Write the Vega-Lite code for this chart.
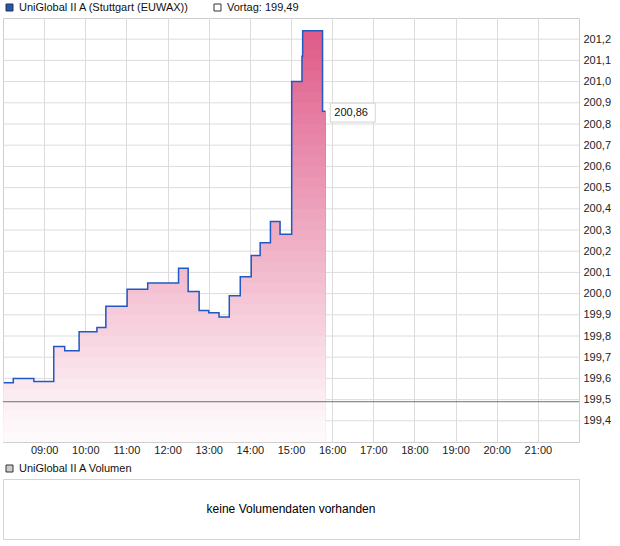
{
  "$schema": "https://vega.github.io/schema/vega-lite/v6.json",
  "padding": {"left": 2, "top": 1, "right": 5, "bottom": 5},
  "background": "white",
  "spacing": 6,
  "config": {
    "font": "Liberation Sans",
    "view": {"stroke": "#cfcfcf"},
    "axis": {"labelFont": "Liberation Sans", "labelFontSize": 11, "labelColor": "#222222", "gridColor": "#dcdcdc", "domain": false, "ticks": false, "title": null},
    "legend": {"title": null, "orient": "none", "legendX": 1, "legendY": -16, "direction": "horizontal", "symbolType": "square", "symbolSize": 49, "labelFont": "Liberation Sans", "labelFontSize": 11, "labelColor": "#111111", "labelOffset": 4, "labelLimit": 400, "columnPadding": 22, "symbolStrokeColor": "#333333", "symbolStrokeWidth": 1, "symbolOpacity": 1}
  },
  "resolve": {"scale": {"fill": "independent"}, "legend": {"fill": "independent"}},
  "datasets": {
    "price": [
      {"t": "2024-01-02T08:01", "v": 199.58},
      {"t": "2024-01-02T08:15", "v": 199.60},
      {"t": "2024-01-02T08:45", "v": 199.585},
      {"t": "2024-01-02T09:14", "v": 199.75},
      {"t": "2024-01-02T09:30", "v": 199.73},
      {"t": "2024-01-02T09:51", "v": 199.82},
      {"t": "2024-01-02T10:17", "v": 199.84},
      {"t": "2024-01-02T10:30", "v": 199.94},
      {"t": "2024-01-02T11:01", "v": 200.02},
      {"t": "2024-01-02T11:31", "v": 200.05},
      {"t": "2024-01-02T12:16", "v": 200.12},
      {"t": "2024-01-02T12:30", "v": 200.01},
      {"t": "2024-01-02T12:46", "v": 199.92},
      {"t": "2024-01-02T13:00", "v": 199.91},
      {"t": "2024-01-02T13:15", "v": 199.89},
      {"t": "2024-01-02T13:30", "v": 199.99},
      {"t": "2024-01-02T13:46", "v": 200.08},
      {"t": "2024-01-02T14:02", "v": 200.18},
      {"t": "2024-01-02T14:15", "v": 200.24},
      {"t": "2024-01-02T14:30", "v": 200.34},
      {"t": "2024-01-02T14:44", "v": 200.28},
      {"t": "2024-01-02T15:01", "v": 201.00},
      {"t": "2024-01-02T15:16", "v": 201.12},
      {"t": "2024-01-02T15:17", "v": 201.24},
      {"t": "2024-01-02T15:46", "v": 200.86},
      {"t": "2024-01-02T15:50", "v": 200.86}
    ],
    "last": [{"t": "2024-01-02T15:50", "v": 200.86, "label": "200,86"}],
    "vortag": [{"v": 199.49}],
    "ygrid": [{"g": 199.4}, {"g": 199.5}, {"g": 199.6}, {"g": 199.7}, {"g": 199.8}, {"g": 199.9}, {"g": 200.0}, {"g": 200.1}, {"g": 200.2}, {"g": 200.3}, {"g": 200.4}, {"g": 200.5}, {"g": 200.6}, {"g": 200.7}, {"g": 200.8}, {"g": 200.9}, {"g": 201.0}, {"g": 201.1}, {"g": 201.2}],
    "legendTop": [{"name": "UniGlobal II A (Stuttgart (EUWAX))"}, {"name": "Vortag: 199,49"}]
  },
  "vconcat": [
    {
      "width": 576,
      "height": 424,
      "encoding": {
        "x": {
          "field": "t", "type": "temporal",
          "scale": {"domain": [{"year": 2024, "month": 1, "date": 2, "hours": 8}, {"year": 2024, "month": 1, "date": 2, "hours": 22}]},
          "axis": {
            "format": "%H:%M", "labelPadding": 2, "labelFlush": false, "grid": true,
            "values": [
              {"year": 2024, "month": 1, "date": 2, "hours": 9},
              {"year": 2024, "month": 1, "date": 2, "hours": 10},
              {"year": 2024, "month": 1, "date": 2, "hours": 11},
              {"year": 2024, "month": 1, "date": 2, "hours": 12},
              {"year": 2024, "month": 1, "date": 2, "hours": 13},
              {"year": 2024, "month": 1, "date": 2, "hours": 14},
              {"year": 2024, "month": 1, "date": 2, "hours": 15},
              {"year": 2024, "month": 1, "date": 2, "hours": 16},
              {"year": 2024, "month": 1, "date": 2, "hours": 17},
              {"year": 2024, "month": 1, "date": 2, "hours": 18},
              {"year": 2024, "month": 1, "date": 2, "hours": 19},
              {"year": 2024, "month": 1, "date": 2, "hours": 20},
              {"year": 2024, "month": 1, "date": 2, "hours": 21}
            ]
          }
        }
      },
      "layer": [
        {
          "resolve": {"scale": {"y": "independent"}},
          "layer": [
        {"data": {"name": "ygrid"}, "mark": {"type": "rule", "color": "#dcdcdc", "strokeWidth": 1}, "encoding": {"x": null, "y": {"field": "g", "type": "quantitative", "axis": null, "scale": {"domain": [199.3, 201.3], "zero": false, "range": [424, 0]}}}},
        {"data": {"name": "price"}, "mark": {"type": "area", "interpolate": "step-after", "opacity": 1, "color": "#df5a88"}, "encoding": {"y": {"field": "v", "type": "quantitative", "axis": null, "scale": {"domain": [199.3, 201.3], "clamp": true, "zero": false, "range": [424, 0]}}}},
        {"data": {"name": "price"}, "mark": {"type": "area", "interpolate": "step-after", "opacity": 1, "color": "#df5b89"}, "encoding": {"y": {"field": "v", "type": "quantitative", "axis": null, "scale": {"domain": [199.3, 201.25], "clamp": true, "zero": false, "range": [424, 10.6]}}}},
        {"data": {"name": "price"}, "mark": {"type": "area", "interpolate": "step-after", "opacity": 1, "color": "#e0608c"}, "encoding": {"y": {"field": "v", "type": "quantitative", "axis": null, "scale": {"domain": [199.3, 201.2], "clamp": true, "zero": false, "range": [424, 21.2]}}}},
        {"data": {"name": "price"}, "mark": {"type": "area", "interpolate": "step-after", "opacity": 1, "color": "#e1648f"}, "encoding": {"y": {"field": "v", "type": "quantitative", "axis": null, "scale": {"domain": [199.3, 201.15], "clamp": true, "zero": false, "range": [424, 31.8]}}}},
        {"data": {"name": "price"}, "mark": {"type": "area", "interpolate": "step-after", "opacity": 1, "color": "#e26892"}, "encoding": {"y": {"field": "v", "type": "quantitative", "axis": null, "scale": {"domain": [199.3, 201.1], "clamp": true, "zero": false, "range": [424, 42.4]}}}},
        {"data": {"name": "price"}, "mark": {"type": "area", "interpolate": "step-after", "opacity": 1, "color": "#e36c95"}, "encoding": {"y": {"field": "v", "type": "quantitative", "axis": null, "scale": {"domain": [199.3, 201.05], "clamp": true, "zero": false, "range": [424, 53.0]}}}},
        {"data": {"name": "price"}, "mark": {"type": "area", "interpolate": "step-after", "opacity": 1, "color": "#e37098"}, "encoding": {"y": {"field": "v", "type": "quantitative", "axis": null, "scale": {"domain": [199.3, 201.0], "clamp": true, "zero": false, "range": [424, 63.6]}}}},
        {"data": {"name": "price"}, "mark": {"type": "area", "interpolate": "step-after", "opacity": 1, "color": "#e4759b"}, "encoding": {"y": {"field": "v", "type": "quantitative", "axis": null, "scale": {"domain": [199.3, 200.95], "clamp": true, "zero": false, "range": [424, 74.2]}}}},
        {"data": {"name": "price"}, "mark": {"type": "area", "interpolate": "step-after", "opacity": 1, "color": "#e5799e"}, "encoding": {"y": {"field": "v", "type": "quantitative", "axis": null, "scale": {"domain": [199.3, 200.9], "clamp": true, "zero": false, "range": [424, 84.8]}}}},
        {"data": {"name": "price"}, "mark": {"type": "area", "interpolate": "step-after", "opacity": 1, "color": "#e67da2"}, "encoding": {"y": {"field": "v", "type": "quantitative", "axis": null, "scale": {"domain": [199.3, 200.85], "clamp": true, "zero": false, "range": [424, 95.4]}}}},
        {"data": {"name": "price"}, "mark": {"type": "area", "interpolate": "step-after", "opacity": 1, "color": "#e781a5"}, "encoding": {"y": {"field": "v", "type": "quantitative", "axis": null, "scale": {"domain": [199.3, 200.8], "clamp": true, "zero": false, "range": [424, 106.0]}}}},
        {"data": {"name": "price"}, "mark": {"type": "area", "interpolate": "step-after", "opacity": 1, "color": "#e886a8"}, "encoding": {"y": {"field": "v", "type": "quantitative", "axis": null, "scale": {"domain": [199.3, 200.75], "clamp": true, "zero": false, "range": [424, 116.6]}}}},
        {"data": {"name": "price"}, "mark": {"type": "area", "interpolate": "step-after", "opacity": 1, "color": "#e88aab"}, "encoding": {"y": {"field": "v", "type": "quantitative", "axis": null, "scale": {"domain": [199.3, 200.7], "clamp": true, "zero": false, "range": [424, 127.2]}}}},
        {"data": {"name": "price"}, "mark": {"type": "area", "interpolate": "step-after", "opacity": 1, "color": "#e98eae"}, "encoding": {"y": {"field": "v", "type": "quantitative", "axis": null, "scale": {"domain": [199.3, 200.65], "clamp": true, "zero": false, "range": [424, 137.8]}}}},
        {"data": {"name": "price"}, "mark": {"type": "area", "interpolate": "step-after", "opacity": 1, "color": "#ea93b1"}, "encoding": {"y": {"field": "v", "type": "quantitative", "axis": null, "scale": {"domain": [199.3, 200.6], "clamp": true, "zero": false, "range": [424, 148.4]}}}},
        {"data": {"name": "price"}, "mark": {"type": "area", "interpolate": "step-after", "opacity": 1, "color": "#eb97b4"}, "encoding": {"y": {"field": "v", "type": "quantitative", "axis": null, "scale": {"domain": [199.3, 200.55], "clamp": true, "zero": false, "range": [424, 159.0]}}}},
        {"data": {"name": "price"}, "mark": {"type": "area", "interpolate": "step-after", "opacity": 1, "color": "#ec9bb7"}, "encoding": {"y": {"field": "v", "type": "quantitative", "axis": null, "scale": {"domain": [199.3, 200.5], "clamp": true, "zero": false, "range": [424, 169.6]}}}},
        {"data": {"name": "price"}, "mark": {"type": "area", "interpolate": "step-after", "opacity": 1, "color": "#ec9fba"}, "encoding": {"y": {"field": "v", "type": "quantitative", "axis": null, "scale": {"domain": [199.3, 200.45], "clamp": true, "zero": false, "range": [424, 180.2]}}}},
        {"data": {"name": "price"}, "mark": {"type": "area", "interpolate": "step-after", "opacity": 1, "color": "#eda4bd"}, "encoding": {"y": {"field": "v", "type": "quantitative", "axis": null, "scale": {"domain": [199.3, 200.4], "clamp": true, "zero": false, "range": [424, 190.8]}}}},
        {"data": {"name": "price"}, "mark": {"type": "area", "interpolate": "step-after", "opacity": 1, "color": "#eea8c0"}, "encoding": {"y": {"field": "v", "type": "quantitative", "axis": null, "scale": {"domain": [199.3, 200.35], "clamp": true, "zero": false, "range": [424, 201.4]}}}},
        {"data": {"name": "price"}, "mark": {"type": "area", "interpolate": "step-after", "opacity": 1, "color": "#efacc3"}, "encoding": {"y": {"field": "v", "type": "quantitative", "axis": null, "scale": {"domain": [199.3, 200.3], "clamp": true, "zero": false, "range": [424, 212.0]}}}},
        {"data": {"name": "price"}, "mark": {"type": "area", "interpolate": "step-after", "opacity": 1, "color": "#f0b0c6"}, "encoding": {"y": {"field": "v", "type": "quantitative", "axis": null, "scale": {"domain": [199.3, 200.25], "clamp": true, "zero": false, "range": [424, 222.6]}}}},
        {"data": {"name": "price"}, "mark": {"type": "area", "interpolate": "step-after", "opacity": 1, "color": "#f1b5c9"}, "encoding": {"y": {"field": "v", "type": "quantitative", "axis": null, "scale": {"domain": [199.3, 200.2], "clamp": true, "zero": false, "range": [424, 233.2]}}}},
        {"data": {"name": "price"}, "mark": {"type": "area", "interpolate": "step-after", "opacity": 1, "color": "#f1b9cc"}, "encoding": {"y": {"field": "v", "type": "quantitative", "axis": null, "scale": {"domain": [199.3, 200.15], "clamp": true, "zero": false, "range": [424, 243.8]}}}},
        {"data": {"name": "price"}, "mark": {"type": "area", "interpolate": "step-after", "opacity": 1, "color": "#f2bdcf"}, "encoding": {"y": {"field": "v", "type": "quantitative", "axis": null, "scale": {"domain": [199.3, 200.1], "clamp": true, "zero": false, "range": [424, 254.4]}}}},
        {"data": {"name": "price"}, "mark": {"type": "area", "interpolate": "step-after", "opacity": 1, "color": "#f3c1d3"}, "encoding": {"y": {"field": "v", "type": "quantitative", "axis": null, "scale": {"domain": [199.3, 200.05], "clamp": true, "zero": false, "range": [424, 265.0]}}}},
        {"data": {"name": "price"}, "mark": {"type": "area", "interpolate": "step-after", "opacity": 1, "color": "#f4c6d6"}, "encoding": {"y": {"field": "v", "type": "quantitative", "axis": null, "scale": {"domain": [199.3, 200.0], "clamp": true, "zero": false, "range": [424, 275.6]}}}},
        {"data": {"name": "price"}, "mark": {"type": "area", "interpolate": "step-after", "opacity": 1, "color": "#f5cad9"}, "encoding": {"y": {"field": "v", "type": "quantitative", "axis": null, "scale": {"domain": [199.3, 199.95], "clamp": true, "zero": false, "range": [424, 286.2]}}}},
        {"data": {"name": "price"}, "mark": {"type": "area", "interpolate": "step-after", "opacity": 1, "color": "#f6cedc"}, "encoding": {"y": {"field": "v", "type": "quantitative", "axis": null, "scale": {"domain": [199.3, 199.9], "clamp": true, "zero": false, "range": [424, 296.8]}}}},
        {"data": {"name": "price"}, "mark": {"type": "area", "interpolate": "step-after", "opacity": 1, "color": "#f6d2df"}, "encoding": {"y": {"field": "v", "type": "quantitative", "axis": null, "scale": {"domain": [199.3, 199.85], "clamp": true, "zero": false, "range": [424, 307.4]}}}},
        {"data": {"name": "price"}, "mark": {"type": "area", "interpolate": "step-after", "opacity": 1, "color": "#f7d7e2"}, "encoding": {"y": {"field": "v", "type": "quantitative", "axis": null, "scale": {"domain": [199.3, 199.8], "clamp": true, "zero": false, "range": [424, 318.0]}}}},
        {"data": {"name": "price"}, "mark": {"type": "area", "interpolate": "step-after", "opacity": 1, "color": "#f8dbe5"}, "encoding": {"y": {"field": "v", "type": "quantitative", "axis": null, "scale": {"domain": [199.3, 199.75], "clamp": true, "zero": false, "range": [424, 328.6]}}}},
        {"data": {"name": "price"}, "mark": {"type": "area", "interpolate": "step-after", "opacity": 1, "color": "#f9dfe8"}, "encoding": {"y": {"field": "v", "type": "quantitative", "axis": null, "scale": {"domain": [199.3, 199.7], "clamp": true, "zero": false, "range": [424, 339.2]}}}},
        {"data": {"name": "price"}, "mark": {"type": "area", "interpolate": "step-after", "opacity": 1, "color": "#fae3eb"}, "encoding": {"y": {"field": "v", "type": "quantitative", "axis": null, "scale": {"domain": [199.3, 199.65], "clamp": true, "zero": false, "range": [424, 349.8]}}}},
        {"data": {"name": "price"}, "mark": {"type": "area", "interpolate": "step-after", "opacity": 1, "color": "#fae8ee"}, "encoding": {"y": {"field": "v", "type": "quantitative", "axis": null, "scale": {"domain": [199.3, 199.6], "clamp": true, "zero": false, "range": [424, 360.4]}}}},
        {"data": {"name": "price"}, "mark": {"type": "area", "interpolate": "step-after", "opacity": 1, "color": "#fbecf1"}, "encoding": {"y": {"field": "v", "type": "quantitative", "axis": null, "scale": {"domain": [199.3, 199.55], "clamp": true, "zero": false, "range": [424, 371.0]}}}},
        {"data": {"name": "price"}, "mark": {"type": "area", "interpolate": "step-after", "opacity": 1, "color": "#fcf0f4"}, "encoding": {"y": {"field": "v", "type": "quantitative", "axis": null, "scale": {"domain": [199.3, 199.5], "clamp": true, "zero": false, "range": [424, 381.6]}}}},
        {"data": {"name": "price"}, "mark": {"type": "area", "interpolate": "step-after", "opacity": 1, "color": "#fdf4f7"}, "encoding": {"y": {"field": "v", "type": "quantitative", "axis": null, "scale": {"domain": [199.3, 199.45], "clamp": true, "zero": false, "range": [424, 392.2]}}}},
        {"data": {"name": "price"}, "mark": {"type": "area", "interpolate": "step-after", "opacity": 1, "color": "#fdf7f9"}, "encoding": {"y": {"field": "v", "type": "quantitative", "axis": null, "scale": {"domain": [199.3, 199.4], "clamp": true, "zero": false, "range": [424, 402.8]}}}},
        {"data": {"name": "price"}, "mark": {"type": "area", "interpolate": "step-after", "opacity": 1, "color": "#fefafb"}, "encoding": {"y": {"field": "v", "type": "quantitative", "axis": null, "scale": {"domain": [199.3, 199.35], "clamp": true, "zero": false, "range": [424, 413.4]}}}}
          ]
        },
        {
          "encoding": {
            "y": {
              "field": "v", "type": "quantitative",
              "scale": {"domain": [199.3, 201.3], "zero": false},
              "axis": {
                "orient": "right", "labelPadding": 4, "grid": false,
                "values": [199.4, 199.5, 199.6, 199.7, 199.8, 199.9, 200.0, 200.1, 200.2, 200.3, 200.4, 200.5, 200.6, 200.7, 200.8, 200.9, 201.0, 201.1, 201.2],
                "labelExpr": "replace(format(datum.value, '.1f'), '.', ',')"
              }
            }
          },
          "layer": [
            {
              "data": {"name": "price"},
              "mark": {"type": "line", "interpolate": "step-after", "color": "#2158c4", "strokeWidth": 1.5, "clip": true}
            },
            {
              "data": {"name": "vortag"},
              "mark": {"type": "rule", "color": "#6e6e6e", "strokeWidth": 1},
              "encoding": {"x": null}
            },
            {
              "data": {"name": "last"},
              "mark": {"type": "point", "shape": "M0.22,-0.36H2.22V0.48H0.22Z", "size": 2025, "filled": true, "fill": "#ffffff", "stroke": "#d4d4d4", "strokeWidth": 1, "opacity": 1}
            },
            {
              "data": {"name": "last"},
              "mark": {"type": "text", "align": "left", "baseline": "middle", "dx": 9, "dy": 2, "fontSize": 11, "font": "Liberation Sans", "color": "#111111"},
              "encoding": {"text": {"field": "label"}}
            },
            {
              "data": {"name": "legendTop"},
              "mark": {"type": "point", "filled": true, "opacity": 0, "stroke": "#333333"},
              "encoding": {
                "x": null, "y": null,
                "fill": {"field": "name", "type": "nominal",
                  "scale": {"domain": ["UniGlobal II A (Stuttgart (EUWAX))", "Vortag: 199,49"], "range": ["#1f56c4", "#ffffff"]},
                  "legend": {}}
              }
            }
          ]
        }
      ]
    },
    {
      "width": 576,
      "height": 60,
      "view": {"stroke": "#d4d4d4", "strokeWidth": 1},
      "layer": [
        {
          "data": {"values": [{"msg": "keine Volumendaten vorhanden"}]},
          "mark": {"type": "text", "fontSize": 12, "font": "Liberation Sans", "color": "#000000", "align": "center", "baseline": "middle"},
          "encoding": {"text": {"field": "msg"}}
        },
        {
          "data": {"values": [{"name": "UniGlobal II A Volumen"}]},
          "mark": {"type": "point", "filled": true, "opacity": 0, "stroke": "#333333"},
          "encoding": {
            "fill": {"field": "name", "type": "nominal", "scale": {"range": ["#cccccc"]}, "legend": {}}
          }
        }
      ]
    }
  ]
}
